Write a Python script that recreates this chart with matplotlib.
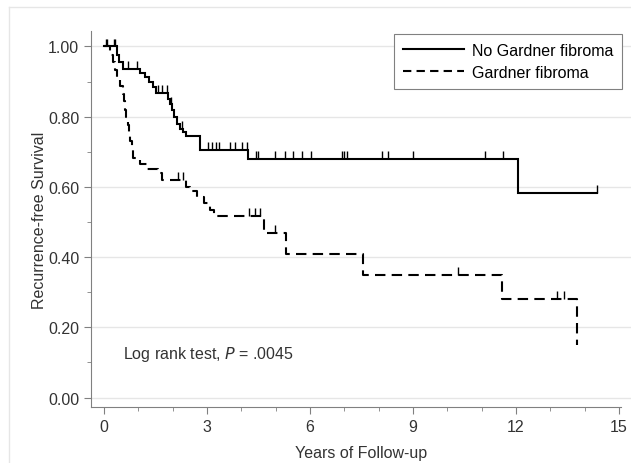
import matplotlib
matplotlib.use("Agg")
import matplotlib.pyplot as plt
from matplotlib.lines import Line2D

plt.rcParams['font.family'] = ['Liberation Sans', 'DejaVu Sans']

# Kaplan-Meier steps: (time, survival after drop)
no_gf_times = [0.38, 0.44, 0.55, 1.05, 1.2, 1.3, 1.42, 1.5, 1.87, 1.93, 1.98,
               2.05, 2.12, 2.2, 2.3, 2.4, 2.8, 4.2, 12.06]
no_gf_surv = [0.977, 0.955, 0.937, 0.925, 0.912, 0.90, 0.885, 0.868, 0.85, 0.835,
              0.82, 0.80, 0.78, 0.765, 0.755, 0.745, 0.705, 0.679, 0.583]
no_gf_end = 14.36
no_gf_cens = [0.05, 0.1, 0.28, 0.33, 0.70, 0.96, 1.57, 1.69, 1.83, 1.95, 2.27,
              3.03, 3.15, 3.25, 3.35, 3.67, 3.82, 4.02, 4.17, 4.42, 4.49, 4.98,
              5.27, 5.51, 5.77, 6.03, 6.93, 7.0, 7.08, 8.10, 8.27, 9.0, 11.1,
              11.62, 14.36]

gf_times = [0.17, 0.26, 0.32, 0.38, 0.47, 0.55, 0.58, 0.62, 0.65, 0.69, 0.72,
            0.76, 0.81, 0.85, 1.05, 1.25, 1.57, 1.7, 2.4, 2.5, 2.7, 2.9, 3.1,
            3.2, 4.66, 5.3, 7.55, 11.6, 13.78]
gf_surv = [0.977, 0.955, 0.932, 0.91, 0.887, 0.865, 0.845, 0.82, 0.80, 0.777,
           0.754, 0.73, 0.705, 0.682, 0.665, 0.65, 0.64, 0.62, 0.60, 0.588, 0.57,
           0.555, 0.535, 0.517, 0.47, 0.41, 0.35, 0.282, 0.15]
gf_end = 13.78
gf_cens = [2.16, 2.30, 4.22, 4.40, 4.55, 4.98, 10.3, 13.2, 13.4]

labels = ["No Gardner fibroma", "Gardner fibroma"]


def km_path(times, surv, end):
    xs, ys = [0.0], [1.0]
    s = 1.0
    for t, v in zip(times, surv):
        xs += [t, t]
        ys += [s, v]
        s = v
    if end > xs[-1]:
        xs.append(end)
        ys.append(s)
    return xs, ys


def surv_at(times, surv, t):
    s = 1.0
    for tt, v in zip(times, surv):
        if tt <= t:
            s = v
    return s


fs = 11.5
fig = plt.figure(figsize=(6.31, 4.64), dpi=100)
ax = fig.add_axes([91 / 631, 1 - 408 / 464, 1 - 91 / 631, (408 - 32) / 464])

# faint panel border
fig.add_artist(Line2D([9 / 631, 9 / 631], [0, 1 - 8 / 464], color='#e6e6e6', lw=1))
fig.add_artist(Line2D([9 / 631, 1], [1 - 8 / 464, 1 - 8 / 464], color='#e6e6e6', lw=1))

tick_h = 0.022
x, y = km_path(no_gf_times, no_gf_surv, no_gf_end)
ax.plot(x, y, color='black', lw=1.5, solid_joinstyle='miter')
cs = [surv_at(no_gf_times, no_gf_surv, t) for t in no_gf_cens]
ax.vlines(no_gf_cens, cs, [c + tick_h for c in cs], color='black', lw=1)

x, y = km_path(gf_times, gf_surv, gf_end)
ax.plot(x, y, color='black', lw=1.5, dashes=(5, 3))
cs = [surv_at(gf_times, gf_surv, t) for t in gf_cens]
ax.vlines(gf_cens, cs, [c + tick_h for c in cs], color='black', lw=1)

xmin = -13 / 34.33
ax.set_xlim(xmin, 15 + 12 / 34.33)
ax.set_ylim(-0.027, 1.044)
ax.spines['top'].set_visible(False)
ax.spines['right'].set_visible(False)
ax.spines['bottom'].set_bounds(xmin, 15.06)
for s in ['left', 'bottom']:
    ax.spines[s].set_color('#808080')

ax.set_yticks([0, 0.2, 0.4, 0.6, 0.8, 1.0])
ax.set_yticklabels(['0.00', '0.20', '0.40', '0.60', '0.80', '1.00'])
ax.set_yticks([0.1, 0.3, 0.5, 0.7, 0.9], minor=True)
ax.set_xticks([0, 3, 6, 9, 12, 15])
ax.set_xticks([1, 2, 4, 5, 7, 8, 10, 11, 13, 14], minor=True)
ax.tick_params(which='major', length=5, color='#808080', labelsize=fs,
               labelcolor='#333333')
ax.tick_params(which='minor', length=3, color='#808080')
ax.yaxis.grid(True, color='#e6e6e6', lw=1)
ax.set_axisbelow(True)

ax.set_xlabel('Years of Follow-up', fontsize=fs, color='#333333', labelpad=8)
ax.set_ylabel('Recurrence-free Survival', fontsize=fs, color='#333333', labelpad=1)

ax.text(0.55, 0.124, 'Log rank test, $\\mathit{P}$ = .0045', fontsize=fs,
        color='#333333', ha='left', va='center')

handles = [Line2D([], [], color='black', lw=1.5),
           Line2D([], [], color='black', lw=1.5, dashes=(4, 2.5))]
leg = ax.legend(handles, labels, loc='upper right', fancybox=False, framealpha=1,
                edgecolor='#808080', fontsize=fs, handlelength=3.8,
                handletextpad=0.5, borderpad=0.55, borderaxespad=0,
                labelspacing=0.45)
leg.get_frame().set_linewidth(0.8)
leg.set_bbox_to_anchor((0, 0, 622 / 631, 1 - 35 / 464), transform=fig.transFigure)

fig.savefig('out.png', dpi=100)
